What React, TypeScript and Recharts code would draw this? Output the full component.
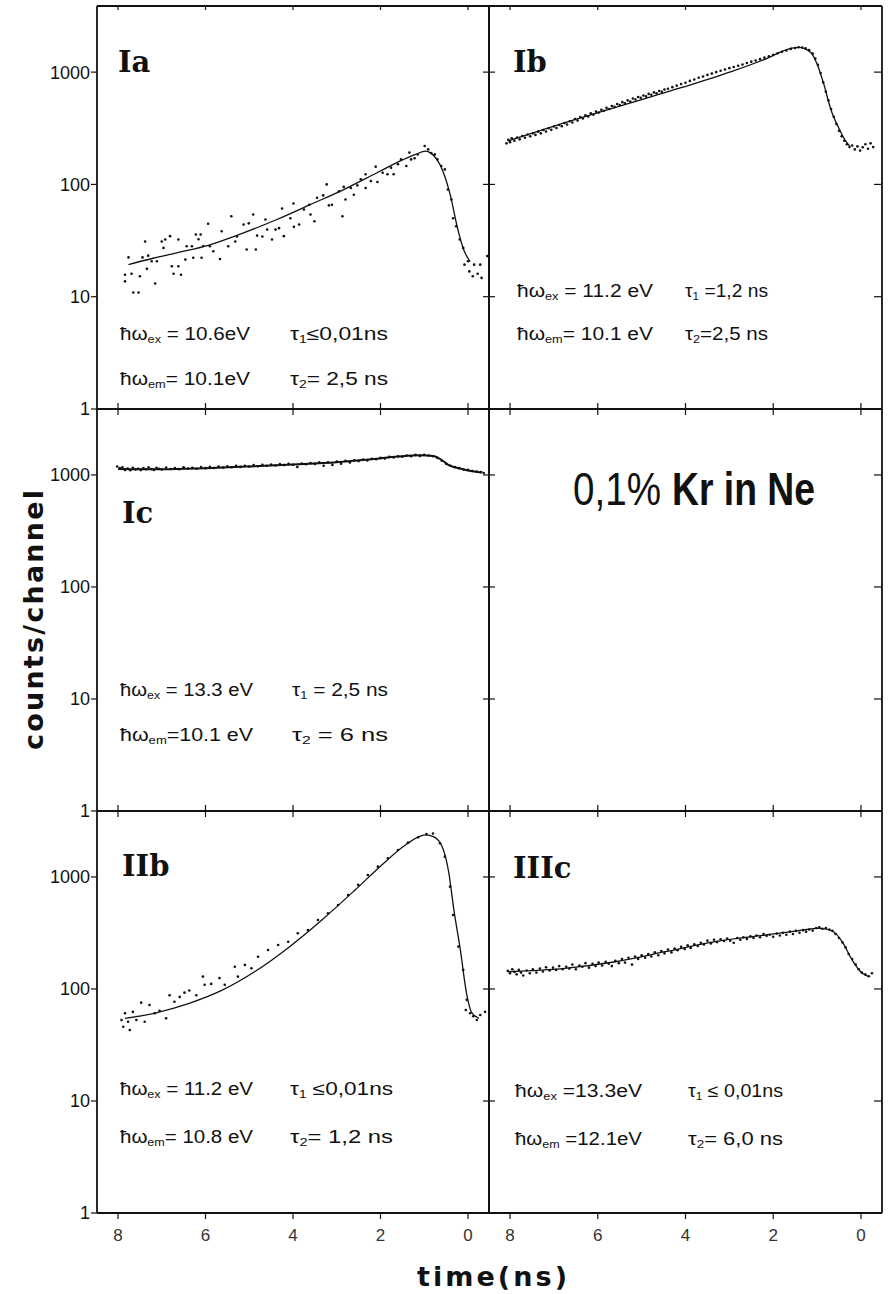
import React from 'react';
import { ComposedChart, Line, Scatter, XAxis, YAxis } from 'recharts';

// time (ns) / counts per channel
const iaFit = [
  [7.76, 19.3], [7.2, 22], [6.66, 24.6], [5.9, 29], [5.13, 37], [4.37, 48.7], [3.61, 66],
  [2.84, 90], [2.08, 127], [1.47, 167], [1.2, 185], [0.97, 198], [0.85, 190], [0.71, 167],
  [0.56, 127], [0.4, 79], [0.25, 42.5], [0.1, 26.3], [-0.05, 20.5],
];
const iaDots = [
  [7.84, 15.7], [7.84, 13.7], [7.76, 22.4], [7.69, 16], [7.65, 10.9], [7.53, 10.9], [7.5, 15.2],
  [7.44, 22.4], [7.38, 31], [7.31, 23.2], [7.34, 17.7], [7.23, 20.7], [7.15, 13.1], [7.11, 20.7],
  [7.0, 31], [6.92, 32.3], [6.96, 27.2], [6.81, 34.6], [6.77, 18.7], [6.73, 16], [6.62, 32.3],
  [6.62, 18.7], [6.56, 15.7], [6.46, 21.4], [6.43, 28.1], [6.31, 28.1], [6.28, 22.2], [6.22, 35.8],
  [6.16, 32.5], [6.11, 35.8], [6.09, 22.2], [6.05, 28.3], [5.94, 44.6], [5.9, 28.1], [5.82, 25.4],
  [5.67, 21.7], [5.63, 38.3], [5.48, 28.1], [5.41, 52], [5.32, 31], [5.28, 34.4], [5.13, 44],
  [5.06, 26.3], [5.01, 45], [4.91, 54], [4.85, 26.3], [4.82, 35], [4.7, 34.4], [4.63, 48.7],
  [4.59, 39.6], [4.48, 32.3], [4.4, 39.6], [4.32, 40.8], [4.25, 61], [4.21, 34.6], [4.06, 50],
  [3.99, 67.6], [3.98, 41.9], [3.86, 44], [3.75, 59.8], [3.63, 66], [3.6, 54], [3.51, 47],
  [3.45, 76], [3.31, 79.8], [3.23, 100], [3.18, 65], [3.11, 66], [2.95, 87], [2.87, 52],
  [2.84, 95], [2.8, 73.5], [2.68, 93], [2.61, 81], [2.53, 98], [2.45, 111], [2.34, 93],
  [2.34, 123], [2.22, 107], [2.11, 144], [2.07, 105], [1.95, 127], [1.84, 123], [1.76, 141],
  [1.7, 123], [1.6, 151], [1.53, 167], [1.41, 146], [1.34, 192], [1.3, 167], [1.22, 171],
  [1.15, 185], [0.99, 220], [0.91, 205], [0.84, 190], [0.76, 185], [0.7, 167], [0.61, 146],
  [0.53, 136], [0.46, 90], [0.38, 73.5], [0.34, 50], [0.27, 42.4], [0.19, 32.3], [0.11, 27.2],
  [0.08, 19.3], [0.0, 20.7], [-0.03, 16.8], [-0.11, 15.2], [-0.14, 19.3], [-0.22, 16],
  [-0.28, 19.3], [-0.31, 14.7], [-0.44, 23],
];

const ibFit = [
  [8.05, 244], [6.75, 355], [5.23, 536], [4.08, 730], [2.94, 1015], [2.18, 1306], [1.57, 1638],
  [1.42, 1660], [1.15, 1500], [1.0, 1179], [0.85, 790], [0.69, 470], [0.5, 315], [0.35, 244],
  [0.26, 220],
];
const ibDots = [
  [8.08, 232], [8.04, 250], [8.0, 238], [7.96, 258], [7.9, 245], [7.84, 262], [7.78, 252],
  [7.72, 270], [7.66, 260], [7.6, 278], [7.54, 268], [7.48, 285], [7.42, 276], [7.36, 295],
  [7.3, 285], [7.24, 305], [7.18, 296], [7.12, 316], [7.06, 306], [7.0, 328], [6.94, 318],
  [6.88, 338], [6.82, 330], [6.76, 352], [6.7, 342], [6.64, 365], [6.58, 356], [6.52, 382],
  [6.46, 370], [6.4, 398], [6.34, 386], [6.28, 412], [6.22, 402], [6.16, 430], [6.1, 418],
  [6.04, 445], [5.98, 436], [5.92, 462], [5.86, 452], [5.8, 480], [5.74, 470], [5.68, 500],
  [5.62, 490], [5.56, 520], [5.5, 508], [5.44, 540], [5.38, 528], [5.32, 560], [5.26, 548],
  [5.2, 582], [5.14, 570], [5.08, 600], [5.02, 590], [4.96, 620], [4.9, 608], [4.84, 640],
  [4.78, 628], [4.72, 660], [4.66, 648], [4.6, 678], [4.54, 668], [4.48, 700], [4.4, 712],
  [4.3, 735], [4.2, 758], [4.1, 785], [4.0, 805], [3.9, 835], [3.8, 860], [3.7, 890],
  [3.6, 915], [3.5, 945], [3.4, 970], [3.3, 1000], [3.2, 1030], [3.1, 1055], [3.0, 1085],
  [2.9, 1110], [2.8, 1140], [2.7, 1170], [2.6, 1205], [2.5, 1240], [2.4, 1270], [2.3, 1305],
  [2.2, 1345], [2.1, 1385], [2.0, 1425], [1.9, 1470], [1.8, 1515], [1.7, 1560], [1.6, 1610],
  [1.5, 1640], [1.42, 1665], [1.34, 1655], [1.26, 1630], [1.18, 1570], [1.1, 1460], [1.04, 1320],
  [0.98, 1160], [0.92, 980], [0.86, 810], [0.8, 670], [0.74, 560], [0.68, 470], [0.62, 400],
  [0.56, 345], [0.5, 300], [0.44, 268], [0.38, 245], [0.32, 228], [0.26, 215], [0.2, 222],
  [0.14, 205], [0.08, 218], [0.02, 200], [-0.04, 214], [-0.1, 228], [-0.16, 208], [-0.22, 232],
  [-0.28, 215],
];

const icFit = [
  [8.0, 1130], [7.0, 1125], [6.0, 1150], [5.0, 1190], [4.0, 1240], [3.0, 1300], [2.2, 1380],
  [1.6, 1460], [1.1, 1500], [0.8, 1480], [0.6, 1360], [0.45, 1230], [0.3, 1170], [0.1, 1120],
  [-0.1, 1080], [-0.3, 1050],
];
const icDots = [
  [8.02, 1190], [7.96, 1150], [7.9, 1170], [7.84, 1110], [7.78, 1140], [7.72, 1100], [7.66, 1160],
  [7.6, 1120], [7.54, 1135], [7.48, 1105], [7.42, 1150], [7.36, 1125], [7.3, 1170], [7.24, 1130],
  [7.18, 1110], [7.12, 1160], [7.06, 1135], [7.0, 1120], [6.9, 1165], [6.8, 1130], [6.7, 1150],
  [6.6, 1125], [6.5, 1170], [6.4, 1140], [6.3, 1160], [6.2, 1135], [6.1, 1175], [6.0, 1150],
  [5.9, 1180], [5.8, 1155], [5.7, 1190], [5.6, 1165], [5.5, 1195], [5.4, 1170], [5.3, 1205],
  [5.2, 1180], [5.1, 1210], [5.0, 1190], [4.9, 1225], [4.8, 1195], [4.7, 1230], [4.6, 1210],
  [4.5, 1240], [4.4, 1215], [4.3, 1250], [4.2, 1225], [4.1, 1255], [4.0, 1235], [3.9, 1180],
  [3.8, 1265], [3.7, 1245], [3.6, 1280], [3.5, 1255], [3.4, 1295], [3.3, 1210], [3.2, 1300],
  [3.1, 1230], [3.0, 1320], [2.9, 1260], [2.8, 1335], [2.7, 1290], [2.6, 1350], [2.5, 1330],
  [2.4, 1370], [2.3, 1345], [2.2, 1395], [2.1, 1380], [2.0, 1420], [1.9, 1405], [1.8, 1450],
  [1.7, 1430], [1.6, 1470], [1.5, 1455], [1.4, 1490], [1.3, 1470], [1.2, 1510], [1.1, 1480],
  [1.0, 1515], [0.9, 1490], [0.8, 1470], [0.7, 1420], [0.6, 1340], [0.5, 1260], [0.4, 1210],
  [0.3, 1175], [0.2, 1150], [0.1, 1120], [0.0, 1110], [-0.1, 1085], [-0.2, 1070], [-0.3, 1060],
  [-0.36, 1040],
];

const iibFit = [
  [7.84, 54.7], [7.15, 61], [6.39, 74], [5.63, 97], [4.87, 143], [4.1, 235], [3.34, 413],
  [2.58, 766], [1.97, 1279], [1.43, 1932], [0.97, 2371], [0.79, 2290], [0.59, 1862],
  [0.44, 1100], [0.32, 500], [0.18, 230], [0.03, 90], [-0.08, 62], [-0.25, 54.7],
];
const iibDots = [
  [7.92, 52.9], [7.88, 46], [7.84, 60.7], [7.77, 51], [7.73, 43], [7.66, 62.5], [7.58, 52.9],
  [7.47, 75.5], [7.39, 51], [7.28, 72], [7.16, 60.7], [7.05, 64], [6.9, 54.7], [6.82, 88],
  [6.71, 77], [6.59, 85], [6.48, 92.7], [6.37, 97], [6.21, 88], [6.06, 129], [6.02, 109],
  [5.87, 111], [5.68, 125], [5.56, 109], [5.33, 158], [5.26, 129], [5.1, 164], [4.95, 153],
  [4.8, 194], [4.57, 223], [4.34, 247], [4.11, 264], [3.89, 314], [3.66, 336], [3.43, 413],
  [3.2, 474], [2.97, 562], [2.74, 691], [2.51, 849], [2.29, 1042], [2.06, 1236], [1.83, 1469],
  [1.6, 1742], [1.37, 2024], [1.14, 2261], [0.95, 2420], [0.8, 2440], [0.64, 2000], [0.53, 1518],
  [0.41, 819], [0.34, 458], [0.22, 239], [0.11, 148], [0.03, 80], [0.05, 65], [-0.05, 60.7],
  [-0.12, 57], [-0.2, 52.9], [-0.28, 58.5], [-0.39, 62.5],
];

const iiicFit = [
  [8.05, 143], [6.75, 153], [5.6, 175], [4.46, 215], [3.32, 265], [2.18, 303], [1.42, 332],
  [0.96, 348], [0.66, 331], [0.43, 265], [0.2, 181], [-0.03, 138], [-0.18, 129],
];
const iiicDots = [
  [8.05, 145], [8.0, 138], [7.95, 150], [7.9, 142], [7.85, 135], [7.8, 148], [7.75, 140],
  [7.7, 132], [7.62, 146], [7.55, 138], [7.48, 150], [7.4, 140], [7.32, 152], [7.25, 143],
  [7.18, 156], [7.1, 146], [7.02, 155], [6.95, 148], [6.88, 160], [6.8, 150], [6.72, 158],
  [6.65, 152], [6.58, 165], [6.5, 150], [6.42, 162], [6.35, 158], [6.28, 170], [6.2, 155],
  [6.12, 168], [6.05, 160], [5.98, 172], [5.9, 162], [5.82, 175], [5.75, 168], [5.68, 160],
  [5.6, 178], [5.52, 170], [5.45, 185], [5.38, 172], [5.3, 190], [5.22, 165], [5.15, 195],
  [5.08, 185], [5.0, 200], [4.92, 190], [4.85, 205], [4.78, 195], [4.7, 212], [4.62, 200],
  [4.55, 218], [4.48, 208], [4.4, 225], [4.32, 212], [4.25, 230], [4.18, 222], [4.1, 238],
  [4.02, 228], [3.95, 245], [3.88, 232], [3.8, 250], [3.72, 242], [3.65, 258], [3.58, 250],
  [3.5, 270], [3.42, 255], [3.35, 275], [3.28, 262], [3.2, 278], [3.12, 268], [3.05, 282],
  [2.98, 270], [2.9, 258], [2.82, 285], [2.75, 275], [2.68, 290], [2.6, 280], [2.52, 295],
  [2.45, 285], [2.38, 300], [2.3, 290], [2.22, 310], [2.15, 298], [2.08, 305], [2.0, 292],
  [1.92, 312], [1.85, 300], [1.78, 318], [1.7, 305], [1.62, 325], [1.55, 310], [1.48, 330],
  [1.4, 318], [1.32, 335], [1.25, 325], [1.18, 340], [1.1, 332], [1.02, 350], [0.95, 355],
  [0.88, 345], [0.8, 350], [0.72, 340], [0.65, 330], [0.58, 310], [0.5, 285], [0.42, 260],
  [0.35, 235], [0.28, 205], [0.2, 185], [0.12, 165], [0.05, 150], [-0.02, 140], [-0.1, 135],
  [-0.18, 130], [-0.25, 138],
];

const xTicks = [0, 2, 4, 6, 8];
const yTicks = [1, 10, 100, 1000];

const INK = '#111';
const PW = 392;
const PH = 402;
const M = 60;
const SANS = '"Liberation Sans", Arial, sans-serif';

const pts = (a: number[][]) => a.map(([t, v]) => ({ t, v }));
const blank = () => '';

const Dot = (p: any) => <circle cx={p.cx} cy={p.cy} r={1.3} fill={INK} />;

interface PanelProps {
  left: number;
  top: number;
  col: number;
  row: number;
  fit?: number[][];
  dots?: number[][];
  lineW?: number;
}

const Panel: React.FC<PanelProps> = ({ left, top, col, row, fit, dots, lineW = 1.3 }) => {
  const axisLine = { stroke: INK, strokeWidth: 1.8 };
  const tickLine = { stroke: INK, strokeWidth: 1.2 };
  const tickFont = { fill: INK, fontSize: 18, fontFamily: SANS };
  return (
    <div style={{ position: 'absolute', left: left - M - 1, top: top - M - 1 }}>
      <ComposedChart
        width={PW + 2 * M + 2}
        height={PH + 2 * M + 2}
        margin={{ top: M, right: M, bottom: M, left: M }}
      >
        <XAxis
          xAxisId="b"
          type="number"
          dataKey="t"
          domain={[-0.48, 8.48]}
          reversed
          allowDataOverflow
          ticks={xTicks}
          interval={0}
          height={1}
          tickSize={6}
          tickMargin={10}
          axisLine={axisLine}
          tickLine={tickLine}
          tick={{ ...tickFont, fontSize: 17, fill: '#333' }}
          tickFormatter={row === 2 ? (v: number) => String(v) : blank}
        />
        <XAxis
          xAxisId="t"
          orientation="top"
          type="number"
          dataKey="t"
          domain={[-0.48, 8.48]}
          reversed
          allowDataOverflow
          ticks={xTicks}
          interval={0}
          height={1}
          mirror={row === 0}
          tickSize={row === 0 ? 4 : 6}
          axisLine={axisLine}
          tickLine={tickLine}
          tickFormatter={blank}
        />
        <YAxis
          yAxisId="l"
          type="number"
          dataKey="v"
          scale="log"
          domain={[1, 3880]}
          allowDataOverflow
          ticks={yTicks}
          interval={0}
          width={1}
          tickSize={6}
          tickMargin={1}
          axisLine={axisLine}
          tickLine={tickLine}
          tick={tickFont}
          tickFormatter={col === 0 ? (v: number) => String(v) : blank}
        />
        <YAxis
          yAxisId="r"
          orientation="right"
          type="number"
          dataKey="v"
          scale="log"
          domain={[1, 3880]}
          allowDataOverflow
          ticks={yTicks}
          interval={0}
          width={1}
          mirror={col === 1}
          tickSize={col === 1 ? 8 : 6}
          axisLine={axisLine}
          tickLine={tickLine}
          tickFormatter={blank}
        />
        {dots && (
          <Scatter
            xAxisId="b"
            yAxisId="l"
            data={pts(dots)}
            shape={Dot}
            isAnimationActive={false}
          />
        )}
        {fit && (
          <Line
            xAxisId="b"
            yAxisId="l"
            data={pts(fit)}
            dataKey="v"
            type="monotone"
            dot={false}
            activeDot={false}
            stroke={INK}
            strokeWidth={lineW}
            isAnimationActive={false}
          />
        )}
      </ComposedChart>
    </div>
  );
};

interface AnnoProps {
  x: number;
  y: number;
  w: number;
  sym: string;
  sub: string;
  rest: string;
}

const Anno: React.FC<AnnoProps> = ({ x, y, w, sym, sub, rest }) => (
  <text
    x={x}
    y={y}
    textLength={w}
    lengthAdjust="spacingAndGlyphs"
    fontSize={18}
    fontFamily={SANS}
    fill={INK}
  >
    {sym}
    <tspan fontSize={11} dy={3}>
      {sub}
    </tspan>
    <tspan dy={-3}>{rest}</tspan>
  </text>
);

// per panel: hbar-omega column x/width, tau column x/width, two baselines
const notes = [
  { hx: 120, hw: 130, tx: 290, tw: 98, y1: 340, y2: 385, ex: ' = 10.6eV', em: '= 10.1eV', t1: '≤0,01ns', t2: '= 2,5  ns' },
  { hx: 517, hw: 136, tx: 685, tw: 83, y1: 297, y2: 340, ex: ' = 11.2 eV', em: '= 10.1 eV', t1: ' =1,2 ns', t2: '=2,5 ns' },
  { hx: 120, hw: 133, tx: 292, tw: 96, y1: 696, y2: 741, ex: ' = 13.3 eV', em: '=10.1 eV', t1: ' = 2,5 ns', t2: ' = 6    ns' },
  { hx: 120, hw: 133, tx: 290, tw: 103, y1: 1095, y2: 1143, ex: ' = 11.2 eV', em: '= 10.8 eV', t1: ' ≤0,01ns', t2: '= 1,2  ns' },
  { hx: 515, hw: 127, tx: 688, tw: 95, y1: 1097, y2: 1145, ex: ' =13.3eV', em: ' =12.1eV', t1: ' ≤ 0,01ns', t2: '= 6,0  ns' },
];

const panelNames = [
  { x: 118, y: 72, s: 'Ia' },
  { x: 513, y: 72, s: 'Ib' },
  { x: 122, y: 523, s: 'Ic' },
  { x: 122, y: 876, s: 'IIb' },
  { x: 513, y: 878, s: 'IIIc' },
];

const App: React.FC = () => (
  <div
    style={{
      position: 'absolute',
      left: 0,
      top: 0,
      width: 892,
      height: 1294,
      background: '#fff',
      overflow: 'hidden',
    }}
  >
    <Panel left={97} top={7} col={0} row={0} fit={iaFit} dots={iaDots} />
    <Panel left={489} top={7} col={1} row={0} fit={ibFit} dots={ibDots} />
    <Panel left={97} top={409} col={0} row={1} fit={icFit} dots={icDots} lineW={2} />
    <Panel left={489} top={409} col={1} row={1} />
    <Panel left={97} top={811} col={0} row={2} fit={iibFit} dots={iibDots} />
    <Panel left={489} top={811} col={1} row={2} fit={iiicFit} dots={iiicDots} />

    <svg
      width={892}
      height={1294}
      style={{ position: 'absolute', left: 0, top: 0, pointerEvents: 'none' }}
    >
      {panelNames.map((p) => (
        <text
          key={p.s}
          x={p.x}
          y={p.y}
          fontSize={29}
          fontWeight="bold"
          fontFamily='"DejaVu Serif", serif'
          fill={INK}
        >
          {p.s}
        </text>
      ))}
      {notes.map((n, i) => (
        <g key={i}>
          <Anno x={n.hx} y={n.y1} w={n.hw} sym="ħω" sub="ex" rest={n.ex} />
          <Anno x={n.hx} y={n.y2} w={n.hw} sym="ħω" sub="em" rest={n.em} />
          <Anno x={n.tx} y={n.y1} w={n.tw} sym="τ" sub="1" rest={n.t1} />
          <Anno x={n.tx} y={n.y2} w={n.tw} sym="τ" sub="2" rest={n.t2} />
        </g>
      ))}
      <text
        x={573}
        y={505}
        textLength={88}
        lengthAdjust="spacingAndGlyphs"
        fontSize={46}
        fontFamily={SANS}
        fill={INK}
      >
        0,1%
      </text>
      <text
        x={672}
        y={505}
        textLength={143}
        lengthAdjust="spacingAndGlyphs"
        fontSize={46}
        fontWeight="bold"
        fontFamily={SANS}
        fill={INK}
      >
        Kr in Ne
      </text>
      <text
        x={0}
        y={0}
        transform="translate(43 620) rotate(-90)"
        textAnchor="middle"
        textLength={260}
        lengthAdjust="spacing"
        fontSize={27}
        fontWeight="bold"
        fontFamily='"DejaVu Sans", sans-serif'
        fill={INK}
      >
        counts/channel
      </text>
      <text
        x={492}
        y={1286}
        textAnchor="middle"
        textLength={150}
        lengthAdjust="spacing"
        fontSize={27}
        fontWeight="bold"
        fontFamily='"DejaVu Sans", sans-serif'
        fill={INK}
      >
        time(ns)
      </text>
    </svg>
  </div>
);

export default App;
